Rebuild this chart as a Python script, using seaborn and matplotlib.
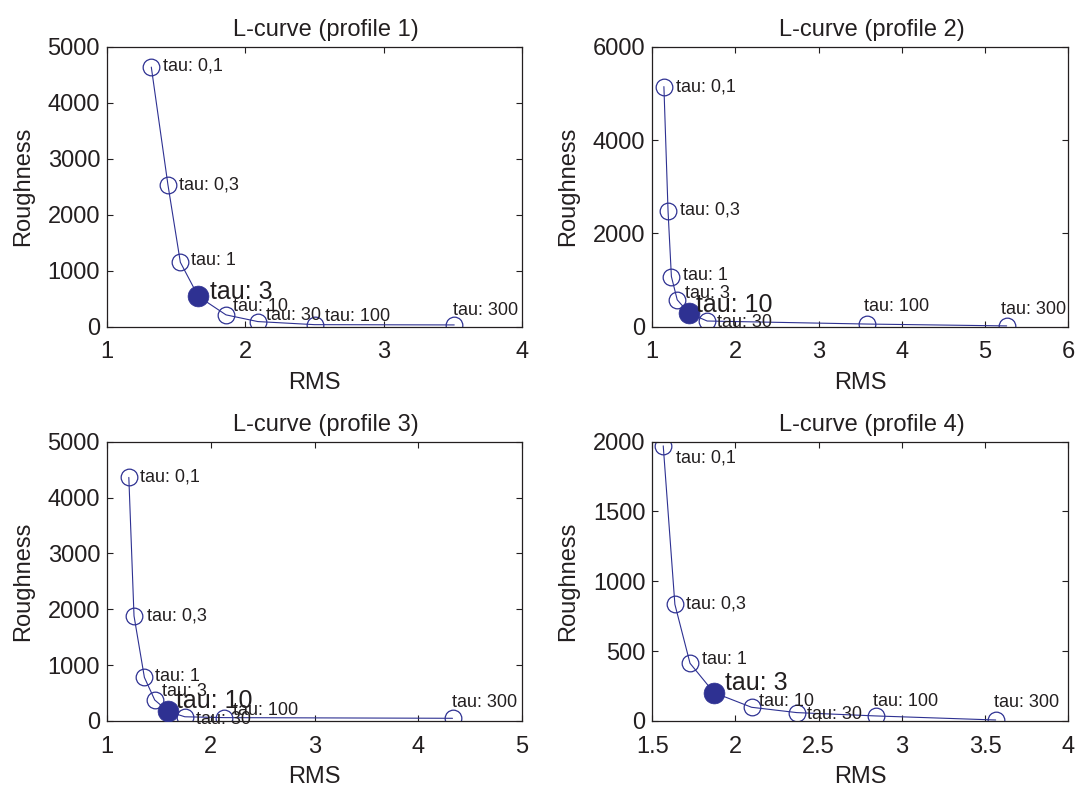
import matplotlib
matplotlib.use("Agg")
import matplotlib.pyplot as plt
import seaborn as sns
import pandas as pd
import numpy as np

sns.set_theme(style="ticks")
plt.rcParams["font.family"] = ["Liberation Sans", "DejaVu Sans"]
plt.rcParams["font.size"] = 17

BLUE = "#2e3192"
INK = "#231f20"

# --- data ---
tau_labels = ["tau: 0,1", "tau: 0,3", "tau: 1", "tau: 3",
              "tau: 10", "tau: 30", "tau: 100", "tau: 300"]

rms_p1 = [1.32, 1.44, 1.53, 1.66, 1.86, 2.09, 2.50, 3.51]
rough_p1 = [4640, 2540, 1150, 540, 210, 90, 35, 30]

rms_p2 = [1.14, 1.19, 1.23, 1.30, 1.44, 1.66, 3.58, 5.26]
rough_p2 = [5150, 2470, 1075, 575, 290, 120, 55, 15]

rms_p3 = [1.21, 1.26, 1.36, 1.46, 1.59, 1.75, 2.13, 4.33]
rough_p3 = [4360, 1880, 780, 375, 170, 75, 60, 48]

rms_p4 = [1.566, 1.636, 1.727, 1.871, 2.097, 2.368, 2.844, 3.564]
rough_p4 = [1970, 835, 413, 203, 98, 60, 36, 7]

best_idx = [3, 4, 4, 3]  # chosen tau per profile

xticks_p1 = [1, 2, 3, 4]
xticks_p2 = [1, 2, 3, 4, 5, 6]
xticks_p3 = [1, 2, 3, 4, 5]
xticks_p4 = [1.5, 2, 2.5, 3, 3.5, 4]
xticklabels_p4 = ["1.5", "2", "2.5", "3", "3.5", "4"]
yticks_p1 = [0, 1000, 2000, 3000, 4000, 5000]
yticks_p2 = [0, 2000, 4000, 6000]
yticks_p3 = [0, 1000, 2000, 3000, 4000, 5000]
yticks_p4 = [0, 500, 1000, 1500, 2000]

# label offsets in pixels (dx, dy) relative to each marker
offs_p1 = [(12, 1), (11, 0), (11, 2), (12, 4), (7, 8), (8, 6), (10, 8), (-1, 14)]
offs_p2 = [(12, 0), (12, 1), (12, 1), (8, 6), (7, 8), (10, -1), (-3, 18), (-6, 16)]
offs_p3 = [(11, 0), (13, 0), (11, 1), (7, 9), (8, 10), (11, -3), (9, 7), (-1, 16)]
offs_p4 = [(13, -12), (11, 0), (12, 4), (11, 10), (7, 6), (10, -2), (-3, 14), (-2, 17)]

panels = [
    ("L-curve (profile 1)", rms_p1, rough_p1, xticks_p1, None, yticks_p1, offs_p1),
    ("L-curve (profile 2)", rms_p2, rough_p2, xticks_p2, None, yticks_p2, offs_p2),
    ("L-curve (profile 3)", rms_p3, rough_p3, xticks_p3, None, yticks_p3, offs_p3),
    ("L-curve (profile 4)", rms_p4, rough_p4, xticks_p4, xticklabels_p4, yticks_p4, offs_p4),
]

positions = [
    [0.0992, 0.5850, 0.3846, 0.3553],
    [0.6045, 0.5850, 0.3855, 0.3553],
    [0.0992, 0.0839, 0.3846, 0.3549],
    [0.6045, 0.0839, 0.3855, 0.3549],
]

fig = plt.figure(figsize=(10.79, 7.87), dpi=100, facecolor="w")

for i, (title, rms, rough, xt, xtl, yt, offs) in enumerate(panels):
    ax = fig.add_axes(positions[i])
    df = pd.DataFrame({"RMS": rms, "Roughness": rough, "tau": tau_labels})

    sns.lineplot(data=df, x="RMS", y="Roughness", ax=ax, sort=False,
                 color=BLUE, lw=0.8, marker="o", ms=12, mfc="none",
                 mec=BLUE, mew=0.9, zorder=2)
    b = best_idx[i]
    sns.scatterplot(x=[rms[b]], y=[rough[b]], ax=ax, s=15 ** 2,
                    color=BLUE, edgecolor=BLUE, linewidth=0.5, zorder=3)

    for j, lab in enumerate(tau_labels):
        big = j == b
        ax.annotate(lab, (rms[j], rough[j]), xytext=offs[j],
                    textcoords="offset pixels", ha="left", va="center",
                    fontsize=18 if big else 13, color=INK, zorder=4)

    ax.set_xlim(xt[0], xt[-1])
    ax.set_ylim(yt[0], yt[-1])
    ax.set_xticks(xt)
    if xtl is not None:
        ax.set_xticklabels(xtl)
    ax.set_yticks(yt)

    ax.set_title(title, fontsize=17, color=INK, pad=8, x=0.528)
    ax.set_xlabel("RMS", fontsize=17, color=INK, labelpad=6)
    ax.set_ylabel("Roughness", fontsize=17, color=INK, labelpad=10)

    ax.tick_params(direction="in", top=True, right=True, length=4,
                   width=0.8, colors=INK, labelsize=17)
    ax.tick_params(axis="x", pad=10.5)
    ax.tick_params(axis="y", pad=5)
    for sp in ax.spines.values():
        sp.set_visible(True)
        sp.set_color(INK)
        sp.set_linewidth(0.9)
    ax.grid(False)

plt.savefig("out.png", dpi=100, facecolor="w")
